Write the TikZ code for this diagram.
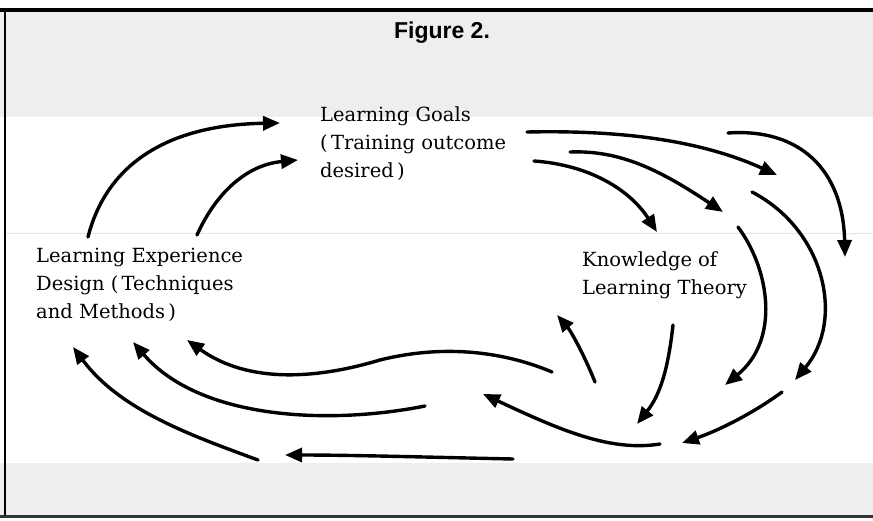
\documentclass[tikz,border=0pt]{standalone}
\usepackage{fontspec}
\setmainfont{DejaVu Serif}
\newfontfamily\titlefont{Liberation Sans}
\usetikzlibrary{arrows.meta}
\definecolor{paper}{gray}{0.935}
\begin{document}
\begin{tikzpicture}[x=1pt,y=-1pt,
  flow/.style={line width=3.4pt, line cap=round,
    -{Triangle[length=17pt,width=14pt]}},
  blocktext/.style={font=\fontsize{19.5}{28}\selectfont, align=left,
    inner sep=0pt, anchor=base west}]
  \useasboundingbox (0,0) rectangle (873,520);
  % shaded bands of the panel
  \fill[paper] (0,12) rectangle (873,117);
  \fill[paper] (0,463) rectangle (873,515);
  \draw[gray!20, line width=1pt] (6,233) -- (873,233);
  % panel frame
  \draw[line width=4pt] (0,10) -- (873,10);
  \draw[line width=2pt] (5,10) -- (5,517);
  \draw[black!80, line width=3pt] (0,516.5) -- (873,516.5);

  % title and text blocks (anchored on the baseline of their last line)
  \node[anchor=base, font=\titlefont\bfseries\fontsize{23}{23}\selectfont]
    (title) at (442,38) {Figure 2.};
  \node[blocktext] (goals) at (320,177)
    {Learning Goals\\(\,Training outcome\\desired\,)};
  \node[blocktext] (design) at (36,318)
    {Learning Experience\\Design (\,Techniques\\and Methods\,)};
  \node[blocktext] (theory) at (582,294)
    {Knowledge of\\Learning Theory};

  % design feeds back into the goals
  \draw[flow] (88,237) .. controls (105,170) and (160,125) .. (280,123);
  \draw[flow] (197,235) .. controls (215,195) and (245,165) .. (298,160);

  % goals fan out towards the theory
  \draw[flow] (527,132) .. controls (620,130) and (700,140) .. (777,175);
  \draw[flow] (570,152) .. controls (620,150) and (660,170) .. (723,212);
  \draw[flow] (534,161) .. controls (590,165) and (630,190) .. (657,232);
  \draw[flow] (728,133) .. controls (800,128) and (843,170) .. (845,257);

  % sweeping down on the right
  \draw[flow] (752,192) .. controls (825,230) and (845,320) .. (795,380);
  \draw[flow] (738,227) .. controls (770,270) and (780,340) .. (725,385);
  \draw[flow] (595,382) .. controls (583,352) and (570,330) .. (557,315);
  \draw[flow] (673,325) .. controls (668,370) and (660,395) .. (637,424);
  \draw[flow] (782,392) .. controls (755,412) and (720,430) .. (682,443);
  \draw[flow] (660,444) .. controls (610,452) and (560,430) .. (483,394);

  % returning to the design
  \draw[flow] (552,372) .. controls (500,350) and (440,345) .. (380,360)
    .. controls (320,378) and (250,385) .. (187,340);
  \draw[flow] (425,406) .. controls (330,425) and (200,420) .. (133,342);
  \draw[flow] (258,460) .. controls (190,435) and (120,410) .. (73,347);
  \draw[flow] (513,459) .. controls (420,457) and (350,455) .. (285,455);
\end{tikzpicture}
\end{document}
